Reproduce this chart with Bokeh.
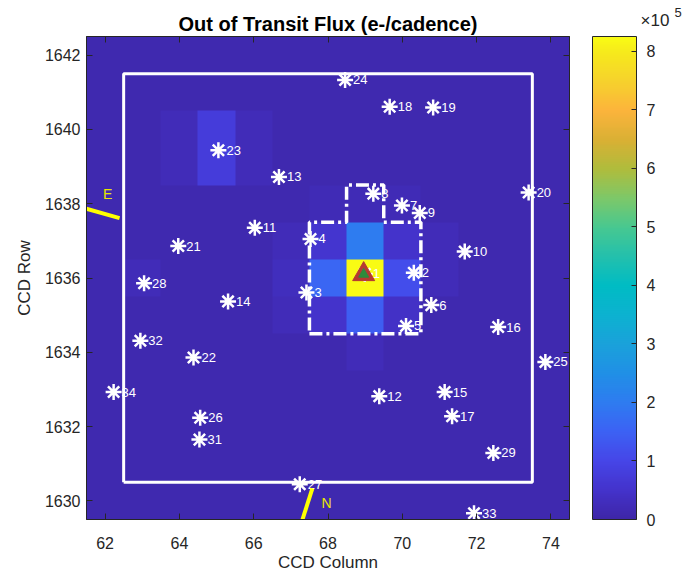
import numpy as np
from bokeh.plotting import figure
from bokeh.models import (Range1d, LinearColorMapper, ColorBar, FixedTicker,
                          LinearAxis)
from bokeh.core.properties import value
from bokeh.embed import file_html
from bokeh.resources import INLINE

FONT = "Liberation Sans"

# ---------------- data ----------------
cols = list(range(62, 75))          # CCD columns (pixel centres)
rows = list(range(1630, 1643))      # CCD rows (pixel centres)

# flux per pixel (e-/cadence), rows listed from top (1642) to bottom (1630),
# columns 62 .. 74
flux_top_down = [
    [1.0e4, 1.0e4, 1.0e4, 1.0e4, 1.0e4, 1.0e4, 1.0e4, 1.0e4, 1.0e4, 1.0e4, 1.0e4, 1.0e4, 1.0e4],  # 1642
    [1.0e4, 1.0e4, 1.0e4, 1.0e4, 1.0e4, 1.0e4, 1.0e4, 1.0e4, 1.0e4, 1.0e4, 1.0e4, 1.0e4, 1.0e4],  # 1641
    [1.0e4, 1.0e4, 2.5e4, 7.5e4, 2.5e4, 1.0e4, 1.0e4, 1.0e4, 1.0e4, 1.0e4, 1.0e4, 1.0e4, 1.0e4],  # 1640
    [1.0e4, 1.0e4, 2.5e4, 7.5e4, 2.5e4, 1.0e4, 1.0e4, 1.0e4, 1.0e4, 1.0e4, 1.0e4, 1.0e4, 1.0e4],  # 1639
    [1.0e4, 1.0e4, 1.0e4, 1.0e4, 1.0e4, 1.0e4, 2.0e4, 2.0e4, 2.0e4, 1.0e4, 1.0e4, 1.0e4, 1.0e4],  # 1638
    [1.0e4, 1.0e4, 1.0e4, 1.0e4, 1.0e4, 2.5e4, 5.5e4, 2.0e5, 5.0e4, 2.5e4, 1.0e4, 1.0e4, 1.0e4],  # 1637
    [1.0e4, 2.5e4, 1.0e4, 1.0e4, 1.0e4, 3.0e4, 1.6e5, 8.24e5, 1.15e5, 2.5e4, 1.0e4, 1.0e4, 1.0e4],  # 1636
    [1.0e4, 1.0e4, 1.0e4, 1.0e4, 1.0e4, 2.5e4, 5.0e4, 1.45e5, 4.5e4, 1.0e4, 1.0e4, 1.0e4, 1.0e4],  # 1635
    [1.0e4, 1.0e4, 1.0e4, 1.0e4, 1.0e4, 1.0e4, 1.0e4, 2.5e4, 1.0e4, 1.0e4, 1.0e4, 1.0e4, 1.0e4],  # 1634
    [1.0e4, 1.0e4, 1.0e4, 1.0e4, 1.0e4, 1.0e4, 1.0e4, 1.0e4, 1.0e4, 1.0e4, 1.0e4, 1.0e4, 1.0e4],  # 1633
    [1.0e4, 1.0e4, 1.0e4, 1.0e4, 1.0e4, 1.0e4, 1.0e4, 1.0e4, 1.0e4, 1.0e4, 1.0e4, 1.0e4, 1.0e4],  # 1632
    [1.0e4, 1.0e4, 1.0e4, 1.0e4, 1.0e4, 1.0e4, 1.0e4, 1.0e4, 1.0e4, 1.0e4, 1.0e4, 1.0e4, 1.0e4],  # 1631
    [1.0e4, 1.0e4, 1.0e4, 1.0e4, 1.0e4, 1.0e4, 1.0e4, 1.0e4, 1.0e4, 1.0e4, 1.0e4, 1.0e4, 1.0e4],  # 1630
]

star_ids = ["1", "2", "3", "4", "5", "6", "7", "8", "9", "10", "11", "12", "13",
            "14", "15", "16", "17", "18", "19", "20", "21", "22", "23", "24",
            "25", "26", "27", "28", "29", "31", "32", "33", "34"]
star_col = [68.99, 70.31, 67.42, 67.53, 70.10, 70.78, 69.99, 69.22, 70.47, 71.68,
            66.03, 69.38, 66.68, 65.31, 71.14, 72.58, 71.34, 69.66, 70.83, 73.40,
            63.97, 64.38, 65.05, 68.46, 73.85, 64.56, 67.24, 63.05, 72.45, 64.54,
            62.95, 71.93, 62.23]
star_row = [1636.11, 1636.14, 1635.61, 1637.05, 1634.71, 1635.27, 1637.95, 1638.27,
            1637.75, 1636.71, 1637.35, 1632.82, 1638.72, 1635.37, 1632.93, 1634.68,
            1632.28, 1640.61, 1640.59, 1638.30, 1636.86, 1633.86, 1639.44, 1641.33,
            1633.74, 1632.24, 1630.45, 1635.86, 1631.29, 1631.65, 1634.31, 1629.67,
            1632.93]

target_col = [68.96]
target_row = [1636.10]

box_col = [62.5, 73.5, 73.5, 62.5, 62.5]
box_row = [1630.5, 1630.5, 1641.5, 1641.5, 1630.5]

aperture_col = [67.5, 70.5, 70.5, 69.5, 69.5, 68.5, 68.5, 67.5, 67.5]
aperture_row = [1634.5, 1634.5, 1637.5, 1637.5, 1638.5, 1638.5, 1637.5, 1637.5, 1634.5]

east_col = [61.30, 62.39]
east_row = [1637.92, 1637.61]
north_col = [67.58, 67.25]
north_row = [1630.34, 1629.30]

x_ticks = [62, 64, 66, 68, 70, 72, 74]
y_ticks = [1630, 1632, 1634, 1636, 1638, 1640, 1642]
cbar_ticks = [0, 1, 2, 3, 4, 5, 6, 7, 8]   # x 1e5
cbar_exponent = "5"

# ---------------- colormap (parula-like) ----------------
anchors = [(0.0, "#3e26a8"), (0.5, "#4433cc"), (1.0, "#4646e8"), (1.5, "#3c62f4"),
           (2.0, "#2e7cf0"), (2.5, "#2090e6"), (3.0, "#1aa2da"), (3.5, "#0cb2d0"),
           (4.0, "#00bcc4"), (4.5, "#24c0ac"), (5.0, "#48c890"), (5.5, "#7ec868"),
           (6.0, "#b0bc3c"), (6.5, "#dab034"), (7.0, "#fcb43c"), (7.5, "#f6d22c"),
           (8.0, "#f6ea1c"), (8.25, "#f9fb14")]
cmax = 8.25
av = np.array([a[0] for a in anchors])
ac = np.array([[int(a[1][i:i + 2], 16) for i in (1, 3, 5)] for a in anchors], float)
tt = np.linspace(0, cmax, 256)
palette = []
for t in tt:
    rgb = [int(round(np.interp(t, av, ac[:, k]))) for k in range(3)]
    palette.append("#%02x%02x%02x" % tuple(rgb))

mapper = LinearColorMapper(palette=palette, low=0, high=cmax)

# ---------------- figure ----------------
p = figure(frame_width=483, frame_height=483,
           x_range=Range1d(cols[0] - 0.5, cols[-1] + 0.5),
           y_range=Range1d(rows[0] - 0.5, rows[-1] + 0.5),
           output_backend="svg", toolbar_location=None,
           min_border_left=86, min_border_top=36, min_border_right=116,
           min_border_bottom=50, background_fill_color="white",
           outline_line_color="#262626", outline_line_width=1)

p.title.text = "Out of Transit Flux (e-/cadence)"
p.title.align = "center"
p.title.text_font = FONT
p.title.text_font_size = "20px"
p.title.text_font_style = "bold"
p.title.text_color = "#000000"
p.title.standoff = 4

p.xgrid.visible = False
p.ygrid.visible = False

bottom_ax = p.below[0]
left_ax = p.left[0]

# mirrored tick marks on top / right (no labels)
top_ax = LinearAxis(ticker=FixedTicker(ticks=x_ticks),
                    major_label_overrides={t: "" for t in x_ticks},
                    major_label_text_font_size="0px", major_label_standoff=0)
right_ax = LinearAxis(ticker=FixedTicker(ticks=y_ticks),
                      major_label_overrides={t: "" for t in y_ticks},
                      major_label_text_font_size="0px", major_label_standoff=0)
p.add_layout(top_ax, "above")
p.add_layout(right_ax, "right")

for ax in (bottom_ax, left_ax, top_ax, right_ax):
    ax.major_tick_in = 6
    ax.major_tick_out = 0
    ax.minor_tick_line_color = None
    ax.axis_line_color = "#262626"
    ax.major_tick_line_color = "#262626"

for ax in (bottom_ax, left_ax):
    ax.major_label_text_font = FONT
    ax.major_label_text_font_size = "16px"
    ax.major_label_text_color = "#262626"
    ax.axis_label_text_font = FONT
    ax.axis_label_text_font_size = "17px"
    ax.axis_label_text_font_style = "normal"
    ax.axis_label_text_color = "#262626"

bottom_ax.ticker = FixedTicker(ticks=x_ticks)
left_ax.ticker = FixedTicker(ticks=y_ticks)
bottom_ax.axis_label = "CCD Column"
left_ax.axis_label = "CCD Row"
bottom_ax.major_label_standoff = 17
bottom_ax.axis_label_standoff = 1
left_ax.major_label_standoff = 6
left_ax.axis_label_standoff = 8

img = np.array(flux_top_down)[::-1] / 1e5
p.image(image=[img], x=cols[0] - 0.5, y=rows[0] - 0.5,
        dw=len(cols), dh=len(rows), color_mapper=mapper)

p.scatter(star_col, star_row, marker="asterisk", size=16,
          line_color="white", line_width=2.5)
p.text(star_col, star_row, text=star_ids, x_offset=8, text_align="left",
       text_baseline="middle", text_color="white", text_font_size="13px",
       text_font=value(FONT))

p.scatter(target_col, target_row, marker="triangle", size=22,
          fill_color="#b53a32", line_color="#b53a32")
p.scatter(target_col, target_row, marker="triangle", size=10,
          fill_color="#2e8b3c", line_color="#2e8b3c")

p.line(box_col, box_row, line_color="white", line_width=3)
p.line(aperture_col, aperture_row, line_color="white", line_width=3.5,
       line_dash="13 4 3 4")

p.line(east_col, east_row, line_color="#ffff00", line_width=4)
p.line(north_col, north_row, line_color="#ffff00", line_width=4)
p.text([62.07], [1638.26], text=["E"], text_align="center", text_baseline="middle",
       text_color="#e8e800", text_font_size="14px", text_font=value(FONT))
p.text([67.96], [1629.95], text=["N"], text_align="center", text_baseline="middle",
       text_color="#e8e800", text_font_size="14px", text_font=value(FONT))

cb = ColorBar(color_mapper=mapper, ticker=FixedTicker(ticks=cbar_ticks),
              location=(506, 0), width=44, height=483,
              padding=0, margin=0, label_standoff=10,
              major_label_text_font=FONT, major_label_text_font_size="16px",
              major_label_text_color="#262626",
              major_tick_line_color="#262626", major_tick_in=5,
              minor_tick_line_color=None,
              bar_line_color="#262626", bar_line_width=1,
              background_fill_alpha=0, border_line_color=None)
p.add_layout(cb, "center")


# colour-bar exponent: text carried by invisible horizontal colour bars
# (plain labels are clipped to the plot frame)
def exponent_text(txt, loc, size):
    return ColorBar(color_mapper=mapper, orientation="horizontal",
                    location=loc, width=12, height=1, padding=0, margin=0,
                    title=txt, title_standoff=0, title_text_font=FONT,
                    title_text_font_size=size, title_text_color="#262626",
                    title_text_font_style="normal",
                    ticker=FixedTicker(ticks=[]), label_standoff=0,
                    major_label_text_font_size="0px", major_tick_line_color=None,
                    minor_tick_line_color=None, scale_alpha=0,
                    bar_line_color=None, background_fill_alpha=0,
                    border_line_color=None)


p.add_layout(exponent_text("\u00d710", (554, 489), "17px"), "center")
p.add_layout(exponent_text(cbar_exponent, (588, 502), "13px"), "center")

open("out.html", "w").write(file_html(p, INLINE))
